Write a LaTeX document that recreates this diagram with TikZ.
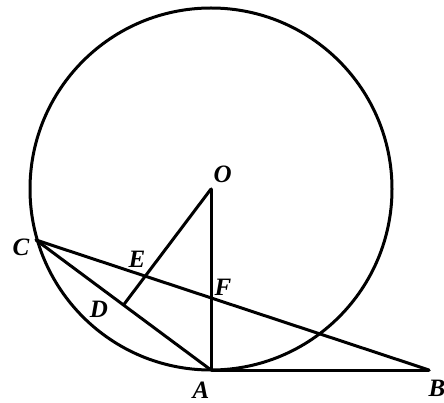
\documentclass[tikz,border=0pt]{standalone}
\usepackage{fontspec}
\setmainfont{Liberation Serif}
\usetikzlibrary{calc,intersections}
\begin{document}
\begin{tikzpicture}[x=1pt,y=-1pt,
  geo/.style={line width=3pt,line cap=round,line join=round},
  lbl/.style={font=\fontsize{25}{25}\selectfont\bfseries\itshape,inner sep=0pt}]
\useasboundingbox (0,0) rectangle (444,403);
\coordinate (O) at (211,189);
\coordinate (A) at (211,370);
\coordinate (B) at (429,370);
\coordinate (C) at (36,240);
\coordinate (D) at ($(C)!0.5!(A)$);
\path[name path=cb] (C) -- (B);
\path[name path=od] (O) -- ($(O)!1.3!(D)$);
\path[name intersections={of=cb and od,by=E}];
\path[name path=oa] (O) -- (A);
\path[name intersections={of=cb and oa,by=F}];
\draw[geo] (O) circle (181);
\draw[geo] (O) -- (A) -- (B);
\draw[geo] (C) -- (B);
\draw[geo] (C) -- (A);
\draw[geo] (O) -- (D);
\node[lbl] (lO) at (222.7,174) {O};
\node[lbl] (lF) at (223,287) {F};
\node[lbl] (lA) at (201,390) {A};
\node[lbl] (lB) at (437,388) {B};
\node[lbl] (lC) at (21,247) {C};
\node[lbl] (lE) at (137,259) {E};
\node[lbl] (lD) at (99,309) {D};
\end{tikzpicture}
\end{document}
